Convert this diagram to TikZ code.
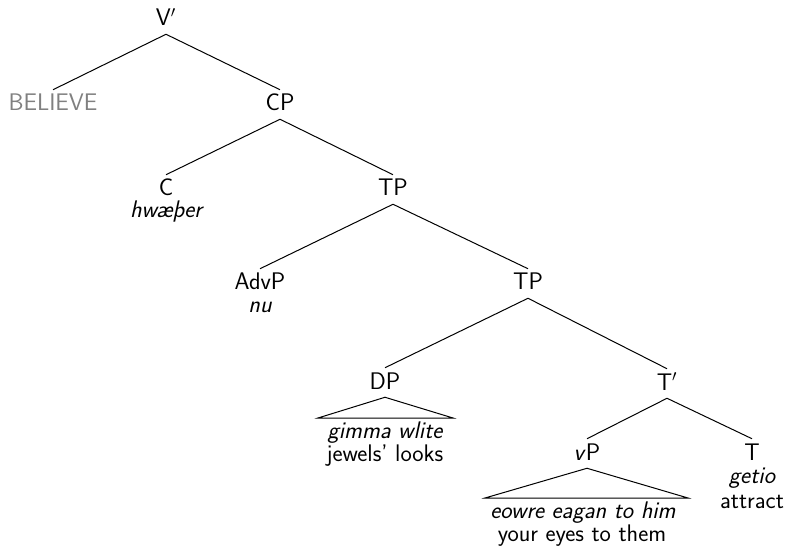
\documentclass[tikz,border=0pt]{standalone}
\usepackage{fontspec}
\begin{document}
\begin{tikzpicture}[x=0.75pt,y=-0.75pt,
  font=\sffamily\fontsize{18}{22}\selectfont,
  lab/.style={anchor=base, inner xsep=1pt, inner ysep=3pt, text height=12.75pt, text depth=3pt},
  sub/.style={anchor=base, inner sep=1pt},
  edge/.style={draw, line width=0.75pt}]
\useasboundingbox (0,0) rectangle (787,548);
\node[lab] (vbar) at (166,26) {V$'$};
\node[lab,text=black!50] (believe) at (53,111) {BELIEVE};
\node[lab] (cp) at (280,111) {CP};
\node[lab] (c) at (166,196) {C};
\node[sub] (cw) at (166,218) {\itshape hwæþer};
\node[lab] (tp) at (393,196) {TP};
\node[lab] (advp) at (260,290) {AdvP};
\node[sub] (advw) at (260,313) {\itshape nu};
\node[lab] (tp2) at (528,290) {TP};
\node[lab] (dp) at (385,389) {DP};
\node[sub] (dpw) at (385,438) {\itshape gimma wlite};
\node[sub] (dpg) at (385,461) {jewels' looks};
\node[lab] (tbar) at (667,390) {T$'$};
\node[lab] (vp) at (587,460) {\textit{v}P};
\node[lab] (t) at (752,460) {T};
\node[sub] (tw) at (752,483) {\itshape getio};
\node[sub] (tg) at (752,508) {attract};
\node[sub] (vpw) at (583,518) {\itshape eowre eagan to him};
\node[sub] (vpg) at (582,541) {your eyes to them};
\coordinate (dpl) at (318,418);
\coordinate (dpr) at (453,418);
\coordinate (vpl) at (485,498);
\coordinate (vpr) at (688,498);
\draw[edge] (vbar.south) -- (believe.north);
\draw[edge] (vbar.south) -- (cp.north);
\draw[edge] (cp.south) -- (c.north);
\draw[edge] (cp.south) -- (tp.north);
\draw[edge] (tp.south) -- (advp.north);
\draw[edge] (tp.south) -- (tp2.north);
\draw[edge] (tp2.south) -- (dp.north);
\draw[edge] (tp2.south) -- (tbar.north);
\draw[edge] (tbar.south) -- (vp.north);
\draw[edge] (tbar.south) -- (t.north);
\draw[edge] (dp.south) -- (dpl) -- (dpr) -- cycle;
\draw[edge] (vp.south) -- (vpl) -- (vpr) -- cycle;
\end{tikzpicture}
\end{document}
